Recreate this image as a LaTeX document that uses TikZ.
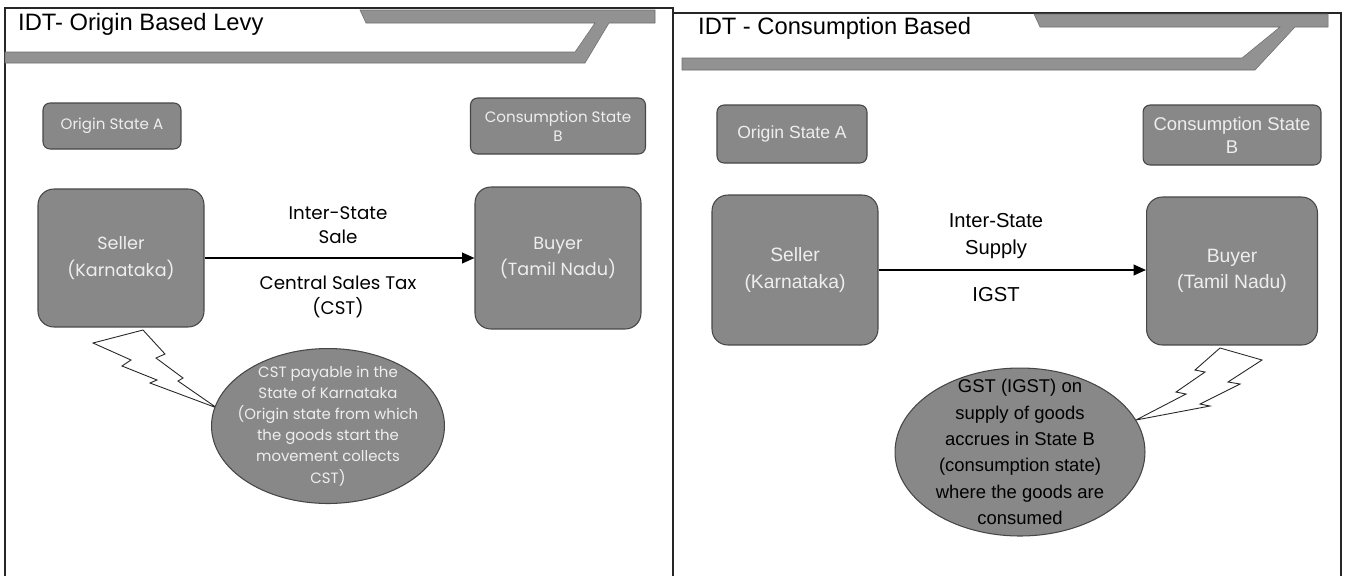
\documentclass[tikz,border=0pt]{standalone}
\usepackage{fontspec}
\setmainfont{Liberation Sans}
\newfontfamily\gothic{Poppins}
\usetikzlibrary{arrows.meta, positioning, shapes.geometric}
\definecolor{boxgray}{RGB}{136,136,136}
\definecolor{boxedge}{RGB}{70,70,70}
\definecolor{bargray}{RGB}{146,146,146}
\definecolor{boxtext}{RGB}{238,238,238}

\begin{document}
\begin{tikzpicture}[x=0.02cm, y=-0.02cm,
    >=Stealth,
    box/.style={draw=boxedge, fill=boxgray, text=boxtext, align=center, inner sep=1pt, line width=0.6pt},
    statebox/.style={box, rounded corners=4pt},
    partybox/.style={box, rounded corners=9pt},
    note/.style={ellipse, draw=boxedge, fill=boxgray, inner sep=0pt, line width=0.6pt},
    notetext/.style={align=center},
    bolt/.style={draw=black!85, fill=white, line width=0.5pt},
    bar/.style={fill=bargray, draw=bargray!75!black, line width=0.3pt},
    arr/.style={-{Triangle[length=7pt,width=6pt]}, line width=1.1pt},
    ttl/.style={anchor=west, font=\fontsize{13.5}{16}\selectfont},
    lbl/.style={align=center, text=black},
    frame/.style={line width=0.8pt, black!85},
]
\useasboundingbox (0,0) rectangle (1349,576);
% === Panel frames ===
\draw[frame] (5,576) -- (5,8) -- (673,8) -- (673,576);
\draw[frame] (673,13) -- (1341,13) -- (1341,576);

% === Left panel: origin based levy ===
\node[ttl] (titleL) at (12,24) {IDT- Origin Based Levy};
\fill[bar] (5,52) -- (575,52) -- (595,23) -- (366,23) -- (360,10) -- (655,10)
  -- (655,23) -- (609,23) -- (585,63) -- (5,63) -- cycle;

\node[statebox, minimum width=2.76cm, minimum height=0.92cm,
      font=\gothic\fontsize{8.6}{11}\selectfont] (orgL) at (112,126) {Origin State A};
\node[statebox, minimum width=3.5cm, minimum height=1.12cm,
      font=\gothic\fontsize{8.6}{11}\selectfont] (conL) at (558,126) {Consumption State\\B};
\node[partybox, minimum width=3.32cm, minimum height=2.76cm,
      font=\gothic\fontsize{10}{15}\selectfont] (sellerL) at (121,258) {Seller\\(Karnataka)};
\node[partybox, minimum width=3.32cm, minimum height=2.84cm,
      font=\gothic\fontsize{10}{15}\selectfont] (buyerL) at (558,258) {Buyer\\(Tamil Nadu)};
\draw[arr] (sellerL) -- (buyerL);
\node[lbl, font=\gothic\fontsize{10.4}{14}\selectfont] (saleL) at (338,225) {Inter-State\\Sale};
\node[lbl, font=\gothic\fontsize{10.4}{14}\selectfont] (cstL) at (338,297) {Central Sales Tax\\(CST)};

% lightning callout to the note
\filldraw[bolt] (93,343) -- (143,330) -- (165,354) -- (156,358) -- (183,378) -- (178,381)
  -- (217,408) -- (150,383) -- (157,380) -- (122,366) -- (131,360) -- cycle;
\node[note, minimum width=4.66cm, minimum height=3.1cm] (noteL) at (328,426) {};
\node[notetext, text=boxtext, font=\gothic\fontsize{8.5}{12}\selectfont] (noteLtext) at (noteL)
  {CST payable in the\\State of Karnataka\\(Origin state from which\\the goods start the\\movement collects\\CST)};

% === Right panel: consumption based ===
\node[ttl] (titleR) at (692,28) {IDT - Consumption Based};
\fill[bar] (682,58) -- (1242,58) -- (1280,27) -- (1040,27) -- (1034,14) -- (1328,14)
  -- (1328,27) -- (1295,27) -- (1255,70) -- (682,70) -- cycle;

\node[statebox, minimum width=3.0cm, minimum height=1.16cm,
      font=\fontsize{10}{13}\selectfont] (orgR) at (792,134) {Origin State A};
\node[statebox, minimum width=3.56cm, minimum height=1.2cm,
      font=\fontsize{10.5}{13}\selectfont] (conR) at (1232,135) {Consumption State\\B};
\node[partybox, minimum width=3.32cm, minimum height=3.0cm,
      font=\fontsize{11}{15}\selectfont] (sellerR) at (795,270) {Seller\\(Karnataka)};
\node[partybox, minimum width=3.42cm, minimum height=2.96cm,
      font=\fontsize{11}{15}\selectfont] (buyerR) at (1232,271) {Buyer\\(Tamil Nadu)};
\draw[arr] (sellerR) -- (buyerR.west |- sellerR);
\node[lbl, font=\fontsize{11.5}{15}\selectfont] (supplyR) at (996,236) {Inter-State\\Supply};
\node[lbl, font=\fontsize{11.5}{15}\selectfont] (igstR) at (996,295) {IGST};

% lightning callout to the note
\filldraw[bolt] (1220,348) -- (1262,360) -- (1228,382) -- (1240,384) -- (1200,404) -- (1210,406)
  -- (1136,420) -- (1186,394) -- (1176,392) -- (1205,372) -- (1195,370) -- cycle;
\node[note, minimum width=5.0cm, minimum height=3.36cm] (noteR) at (1020,452) {};
\node[notetext, text=black, font=\fontsize{10.5}{15}\selectfont] (noteRtext) at (noteR)
  {GST (IGST) on\\supply of goods\\accrues in State B\\(consumption state)\\where the goods are\\consumed};
\end{tikzpicture}
\end{document}
